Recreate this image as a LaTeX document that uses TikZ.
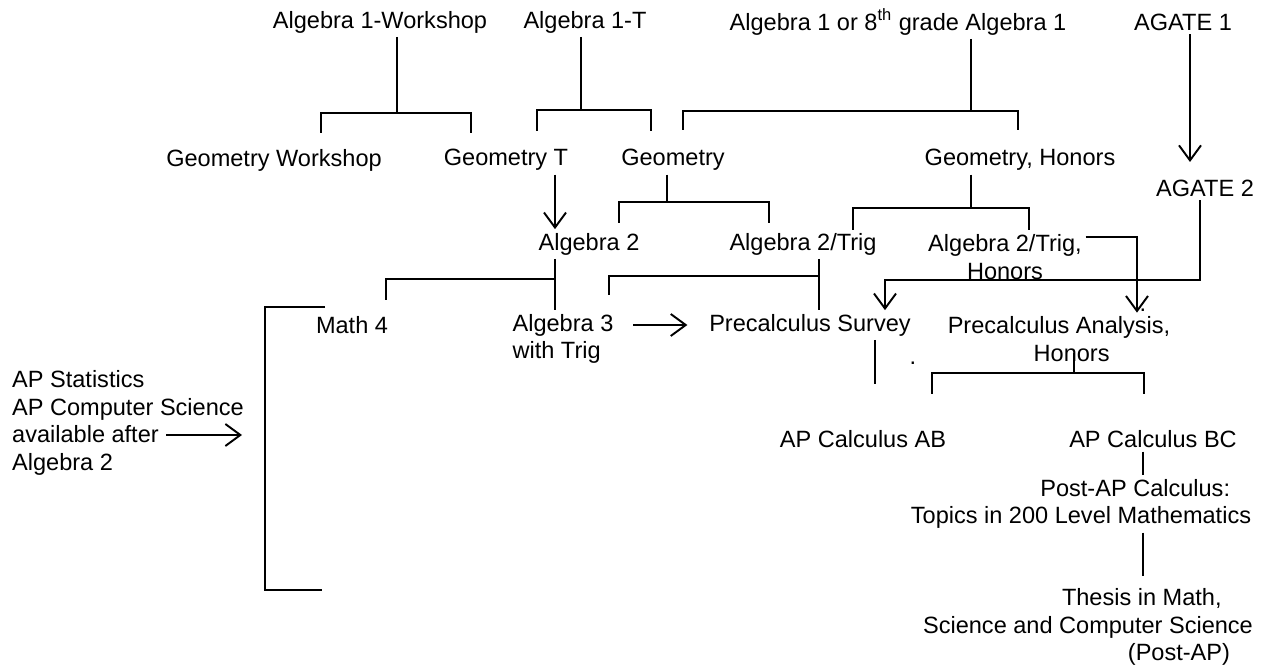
\documentclass[tikz,border=0pt]{standalone}
\usepackage{fontspec}
\setmainfont{Liberation Sans}
\usetikzlibrary{arrows.meta}

\begin{document}
\begin{tikzpicture}[x=0.02cm,y=-0.02cm,
      txt/.style={font=\fontsize{13.4}{15.8}\selectfont, inner sep=2pt, align=center},
      ln/.style={line width=1.1pt},
      arr/.style={-{Straight Barb[length=3mm,width=4.4mm]}, line width=1.1pt}
    ]
    \useasboundingbox (0,0) rectangle (1265,668);

    % courses
    \node[txt] (a1w) at (380,22) {Algebra 1-Workshop};
    \node[txt] (a1t) at (585,22) {Algebra 1-T};
    \node[txt] (a18) at (898,22) {Algebra 1 or 8\textsuperscript{th} grade Algebra 1};
    \node[txt] (ag1) at (1183,22) {AGATE 1};
    \node[txt] (gw) at (274,160) {Geometry Workshop};
    \node[txt] (gt) at (506,160) {Geometry T};
    \node[txt] (geo) at (673,160) {Geometry};
    \node[txt] (geoh) at (1020,160) {Geometry, Honors};
    \node[txt] (ag2) at (1205,188) {AGATE 2};
    \node[txt] (a2) at (589,244) {Algebra 2};
    \node[txt] (a2t) at (803,244) {Algebra 2/Trig};
    \node[txt] (a2th) at (1005,257) {Algebra 2/Trig,\\Honors};
    \node[txt] (m4) at (352,325) {Math 4};
    \node[txt,align=left] (a3) at (563,339) {Algebra 3\\with Trig};
    \node[txt] (pcs) at (810,325) {Precalculus Survey};
    \node[txt,align=left] (pca) at (1059,339) {Precalculus Analysis,\\\hspace*{3.65em}Honors};
    \node[txt] (cab) at (863,439) {AP Calculus AB};
    \node[txt] (cbc) at (1153,439) {AP Calculus BC};
    \node[txt,align=left] (post) at (1081,504) {\hspace*{5.5em}Post-AP Calculus:\\Topics in 200 Level Mathematics};
    \node[txt,align=left] (thesis) at (1088,627) {\hspace*{5.9em}Thesis in Math,\\Science and Computer Science\\\hspace*{8.7em}(Post-AP)};
    \node[txt,align=left] (apst) at (128,423) {AP Statistics\\AP Computer Science\\available after\\Algebra 2};
    \node[txt] (dt1) at (913,363) {.};
    \node[txt] (dt2) at (1143,310) {.};

    % junctions
    \coordinate (wsj) at (397,113);
    \coordinate (tj) at (581,110);
    \coordinate (aj) at (971,111);
    \coordinate (gj) at (667,202);
    \coordinate (hj) at (971,208);
    \coordinate (mj) at (555,279);
    \coordinate (tj2) at (819,276);
    \coordinate (sj) at (875,384);
    \coordinate (pj) at (1074,373);
    \coordinate (pbj) at (1143,466);
    \coordinate (thj) at (1143,576);
    \coordinate (agj) at (1190,100);
    \coordinate (agt) at (1190,162);
    \coordinate (gtj) at (555,200);
    \coordinate (hx) at (1137,237);
    \coordinate (agj2) at (1200,240);
    \coordinate (sx) at (885,280);
    \coordinate (avs) at (166,435);
    \coordinate (ave) at (242,435);
    \coordinate (bt) at (325,307);
    \coordinate (bb) at (322,590);

    % brackets
    \draw[ln] (a1w.south -| wsj) -- (wsj);
    \draw[ln] (wsj) ++(-76,20) |- ++(150,-20) -- ++(0,20);
    \draw[ln] (a1t.south -| tj) -- (tj);
    \draw[ln] (tj) ++(-44,21) |- ++(114,-21) -- ++(0,21);
    \draw[ln] (a18.south -| aj) -- (aj);
    \draw[ln] (aj) ++(-288,19) |- ++(335,-19) -- ++(0,19);
    \draw[ln] (geo.south -| gj) -- (gj);
    \draw[ln] (gj) ++(-48,21) |- ++(150,-21) -- ++(0,21);
    \draw[ln] (geoh.south -| hj) -- (hj);
    \draw[ln] (hj) ++(-118,22) |- ++(176,-22) -- ++(0,22);
    \draw[ln] (a2.south -| mj) -- (mj |- a3.north);
    \draw[ln] (mj) -| ++(-169,21);
    \draw[ln] (a2t.south -| tj2) -- (tj2 |- pcs.north);
    \draw[ln] (tj2) -| ++(-210,19);
    \draw[ln] (pcs.south -| sj) -- (sj);
    \draw[ln] (pj |- pca.south) ++(0,-12) -- (pj);
    \draw[ln] (pj) ++(-142,21) |- ++(212,-21) -- ++(0,21);
    \draw[ln] (cbc.south -| pbj) -- (pbj |- post.north);
    \draw[ln] (post.south -| pbj) -- (thj);
    \draw[ln] (bt) -- ++(-60,0) |- (bb);

    % arrows
    \draw[arr] (ag1.south -| agj) -- (agt);
    \draw[arr] (gt.south -| gtj) -- (gtj |- a2.north);
    \draw[arr,shorten <=0.32cm,shorten >=0.36cm] (a3.east |- pcs.west) -- (pcs.west);
    \draw[arr] (a2th.east |- hx) -- (hx) -- (hx |- pca.north);
    \draw[arr] (ag2.south -| agj2) |- (sx) -- (sx |- pcs.north);
    \draw[arr] (avs) -- (ave);
  \end{tikzpicture}
\end{document}
